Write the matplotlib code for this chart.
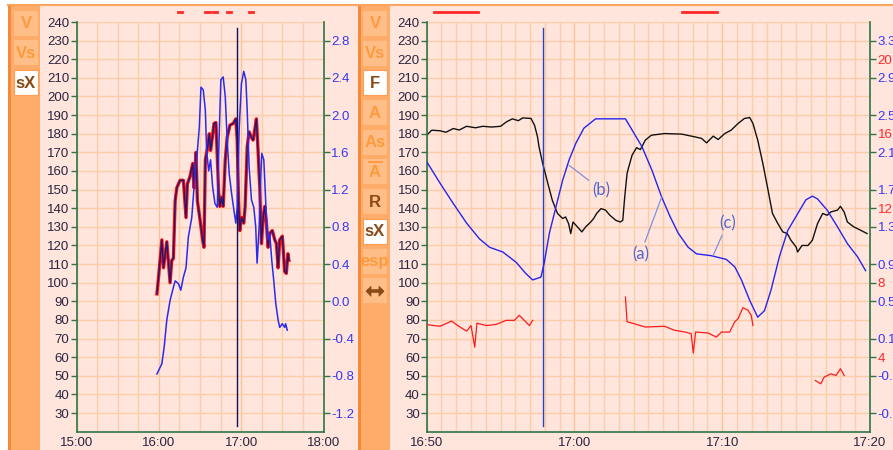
import matplotlib
matplotlib.use('Agg')
import matplotlib.pyplot as plt
from matplotlib.patches import Rectangle, Polygon
from matplotlib.lines import Line2D
from matplotlib.ticker import FixedLocator, MultipleLocator, FuncFormatter

plt.rcParams['font.family'] = ['Liberation Sans', 'DejaVu Sans']

# ---- session overview (minutes after 15:00) ----
hr_t = [58.6, 59.8, 62.2, 63.4, 65.8, 68.2, 69.4, 70.6, 71.9, 73.1,
        75.5, 77.9, 79.8, 80.8, 82.7, 84.7, 85.6, 87.1, 88.1, 90.0,
        91.9, 92.9, 93.9, 95.6, 96.8, 97.7, 99.0, 100.2, 101.6, 102.6,
        103.6, 104.5, 105.7, 106.9, 108.4, 109.8, 111.8, 114.2, 116.1, 117.1,
        118.1, 119.0, 120.2, 121.9, 122.9, 124.4, 125.8, 127.5, 128.7, 129.9,
        131.1, 132.3, 133.6, 134.8, 136.0, 137.2, 138.4, 139.6, 140.8, 142.7,
        144.5, 145.7, 146.9, 148.1, 150.0, 151.7, 152.9, 154.1, 154.8]
hr = [94, 103, 123, 108, 122, 100, 112, 113, 144, 151,
      155, 155, 135, 153, 157, 164, 151, 170, 144, 134,
      123, 119, 166, 173, 180, 171, 178, 185.5, 186, 167.6,
      148, 141, 146, 141, 166, 178, 184.6, 185.5, 188, 176.6,
      144, 128, 135, 132, 141, 173, 181, 178, 176.6, 182,
      188, 171, 150, 121, 135, 141, 132, 119, 126.5, 128,
      123, 121, 108, 123, 125, 106, 105, 115.6, 112]

vs_t = [58.6, 62.2, 63.9, 65.8, 68.2, 70.6, 71.9, 74.3, 76.0, 77.9,
        79.8, 81.5, 84.0, 86.4, 88.1, 89.5, 90.7, 92.4, 93.9, 94.8,
        96.3, 97.7, 99.2, 100.9, 102.6, 104.0, 105.2, 106.9, 108.4, 109.8,
        111.3, 113.0, 114.7, 116.1, 117.1, 118.6, 120.2, 121.9, 123.4, 124.4,
        125.8, 127.5, 129.2, 130.6, 131.6, 133.1, 134.0, 135.0, 136.5, 137.4,
        138.4, 139.6, 140.8, 142.3, 143.7, 145.2, 146.9, 148.1, 150.0, 151.7,
        152.4, 153.6]
vs = [-0.78, -0.67, -0.49, -0.20, 0.01, 0.15, 0.22, 0.19, 0.12, 0.26,
      0.36, 0.69, 0.90, 1.37, 1.62, 1.87, 2.30, 2.27, 2.05, 1.62,
      1.40, 1.52, 1.23, 1.05, 1.01, 1.80, 2.38, 2.41, 2.20, 1.73,
      1.37, 1.16, 0.98, 0.84, 1.01, 1.87, 2.34, 2.47, 2.38, 2.05,
      1.44, 1.09, 1.01, 0.80, 0.41, 0.80, 1.23, 1.59, 1.52, 1.23,
      0.90, 0.66, 0.73, 0.44, 0.23, -0.02, -0.20, -0.28, -0.24, -0.28,
      -0.24, -0.31]

overview_marks = [(73.8, 76.7), (93.6, 97.2), (99.6, 102.5), (109.4, 112.3), (125.8, 128.7)]
overview_cursor = 117.1

# ---- zoomed window (minutes after 16:50) ----
zhr_t = [0, 0.34, 0.9, 1.3, 1.8, 2.2, 2.7, 3.3, 3.8, 4.4, 5.0, 5.4, 5.8, 6.2, 6.5, 7.06, 7.3, 7.5, 7.6, 7.85,
         8.2, 8.5, 8.85, 9.2, 9.4, 9.6, 9.75, 9.9, 10.2, 10.5, 10.76, 11.1, 11.3, 11.5,
         11.8, 12.1, 12.4, 12.8, 13.1, 13.27, 13.4, 13.56, 13.67, 13.9, 14.2, 14.46,
         14.8, 15.2, 16.1, 17.26, 18.16, 18.6, 18.94, 19.39, 19.72, 20.17, 20.6, 21.07,
         21.5, 21.86, 22.08, 22.4, 22.75, 23.1, 23.4, 23.76, 24.1, 24.4, 24.65, 25.0,
         25.1, 25.4, 25.8, 26.1, 26.45, 26.8, 27.1, 27.35, 27.8, 28.0, 28.25, 28.47,
         28.9, 29.36, 29.8]
zhr = [179.2, 181.9, 181.6, 180.8, 182.8, 182.0, 184, 183.2, 184, 183.6, 184, 186.4, 188, 187.0, 188.5, 188.2, 184.5, 178.3, 173, 164,
       153.3, 144.3, 137.2, 134.5, 135.3, 131.8, 126.4, 132.6, 130, 127.3, 130, 132.6, 134.5, 137.2,
       139.8, 139, 136.2, 133.5, 132.6, 133.5, 146, 158.7, 162, 168.5, 172.5, 171.5,
       176.6, 179.2, 180.1, 179.8, 178.3, 177.5, 175.1, 178.7, 176.9, 180.1, 181.9, 185.5,
       188.2, 188.7, 185.5, 176.6, 164, 149.7, 137.2, 131.8, 127.3, 126.4, 122.8, 119.2,
       116.5, 120, 120, 122.8, 131.8, 137.2, 136.2, 138, 139, 141, 138, 132.6,
       130, 128.2, 126.4]

zvs_t = [0, 0.9, 1.8, 2.7, 3.58, 4.26, 5.15, 6.05, 6.7, 7.17, 7.73, 7.95, 8.3, 8.74,
         9.2, 9.64, 10.1, 10.64, 11.43, 13.45, 13.9, 14.57, 15.24, 15.9, 16.47, 17.03,
         17.7, 18.26, 19.27, 20.28, 20.85, 21.3, 21.86, 22.4, 22.86, 23.3, 23.87, 24.43,
         25.1, 25.66, 26.1, 26.45, 27.1, 27.8, 28.47, 29.15, 29.7]
zvs = [2.0, 1.77, 1.55, 1.34, 1.17, 1.08, 1.03, 0.92, 0.80, 0.73, 0.76, 0.91, 1.23, 1.51,
       1.80, 2.02, 2.20, 2.36, 2.46, 2.46, 2.34, 2.16, 1.91, 1.62, 1.41, 1.23,
       1.08, 1.01, 0.99, 0.95, 0.87, 0.73, 0.51, 0.33, 0.40, 0.62, 0.98, 1.26,
       1.44, 1.59, 1.63, 1.60, 1.48, 1.30, 1.12, 0.98, 0.83]

# cadence, three recorded stretches
f1_t = [0, 0.9, 1.68, 2.1, 2.7, 3.0, 3.25, 3.4, 4.03, 4.7, 5.38, 5.94, 6.27, 6.6, 6.95, 7.17]
f1 = [5.75, 5.66, 5.94, 5.7, 5.4, 5.7, 4.54, 5.83, 5.7, 5.76, 5.98, 5.98, 6.25, 5.98, 5.7, 5.98]
f2_t = [13.45, 13.56, 13.9, 14.8, 16.1, 16.8, 17.5, 17.9, 18.04, 18.2, 19.05, 19.6,
        19.95, 20.5, 20.85, 21.07, 21.4, 21.74, 21.96, 22.08]
f2 = [7.23, 5.9, 5.83, 5.62, 5.66, 5.44, 5.35, 5.26, 4.22, 5.35, 5.3, 5.08,
      5.35, 5.35, 5.9, 6.07, 6.66, 6.52, 6.25, 5.7]
f3_t = [26.3, 26.67, 26.9, 27.35, 27.7, 28.0, 28.25]
f3 = [2.75, 2.57, 2.93, 3.11, 3.02, 3.38, 3.02]

zoom_marks = [(0.51, 3.47), (17.26, 19.66)]
zoom_cursor = 7.9

W, H = 893, 450
PINK = '#FFE5DC'
ORANGE = '#FFAB69'
BTN = '#FFBE88'
GRID = '#FDCDAA'
GRID_MAJ = '#FBC295'
GREEN = '#2E7448'
DARK = '#2A2440'
BLUE = '#3838F0'
RED = '#FF2828'
BROWN = '#8A4A16'
BTN_TXT = '#FF9A3C'

fig = plt.figure(figsize=(W / 100, H / 100), dpi=100)
fig.patch.set_facecolor('white')


def fx(x):
    return x / W


def fy(y):
    return 1 - y / H


def px_rect(x, y, w, h, **kw):
    fig.add_artist(Rectangle((fx(x), fy(y + h)), w / W, h / H,
                             transform=fig.transFigure, **kw))


def button(x, y, label, selected=False, dark=False):
    if selected:
        px_rect(x, y, 24, 25, fc='white', ec='#FF9B55', lw=0.8, zorder=-5)
        col = BROWN
    else:
        px_rect(x, y, 24, 25, fc=BTN, ec='none', zorder=-5)
        col = BROWN if dark else BTN_TXT
    if label:
        fig.text(fx(x + 12), fy(y + 13), label, ha='center', va='center',
                 fontsize=12, fontweight='bold', color=col)


# panel background and side bars (kept under the axes)
px_rect(8, 5, W - 8, H - 5, fc=PINK, ec='none', zorder=-10)
for sx in (8, 358):
    px_rect(sx, 5, 32, H - 5, fc=ORANGE, ec='none', zorder=-9)
    px_rect(sx, 5, 3, H - 5, fc='#F5893A', ec='none', zorder=-8)
fig.add_artist(Line2D([fx(8), 1], [fy(5)] * 2, color='#FFA45E', lw=1.5, zorder=-7))

button(14, 11, 'V')
button(14, 40, 'Vs')
button(14, 70, 'sX', selected=True)

labels = ['V', 'Vs', 'F', 'A', 'As', 'A', 'R', 'sX', 'esp', '']
for i, lab in enumerate(labels):
    button(363, 11 + i * 29.7, lab, selected=lab in ('F', 'sX'), dark=lab == 'R')
# bar over the averaged A
fig.add_artist(Line2D([fx(369), fx(382)], [fy(162)] * 2, color=BTN_TXT, lw=1.4))
# scroll button: thick double arrow
ay = 11 + 9 * 29.7 + 13
fig.add_artist(Line2D([fx(369), fx(381)], [fy(ay)] * 2, color=BROWN, lw=2.6))
for tip, base in ((366, 371), (384, 379)):
    fig.add_artist(Polygon([(fx(tip), fy(ay)), (fx(base), fy(ay - 5)), (fx(base), fy(ay + 5))],
                           closed=True, transform=fig.transFigure, fc=BROWN, ec=BROWN, lw=0.5))

ax_bottom = (H - 431.7) / H
ax_height = 409.7 / H
ax1 = fig.add_axes([76.5 / W, ax_bottom, 247 / W, ax_height])
ax2 = fig.add_axes([426.7 / W, ax_bottom, 443.3 / W, ax_height])


def style(ax):
    ax.set_facecolor(PINK)
    ax.spines['top'].set_visible(False)
    for s in ('left', 'right', 'bottom'):
        ax.spines[s].set_color(GREEN)
        ax.spines[s].set_linewidth(1.2)
    ax.set_ylim(20, 240)
    ax.yaxis.set_major_locator(FixedLocator(range(30, 241, 10)))
    ax.tick_params(axis='y', direction='out', length=4, width=1, color=GREEN,
                   pad=1, labelsize=9.5, labelcolor=DARK)
    ax.tick_params(axis='x', which='both', length=0, pad=4, labelsize=9.5, labelcolor=DARK)
    ax.grid(which='minor', axis='x', color=GRID, lw=1)
    ax.grid(which='major', axis='x', color=GRID_MAJ, lw=1)
    ax.grid(which='major', axis='y', color=GRID, lw=1)
    ax.set_axisbelow(True)


def twin(ax, lo, hi, ticks, color, fmt):
    t = ax.twinx()
    t.set_ylim(lo, hi)
    t.yaxis.set_major_locator(FixedLocator(ticks))
    t.yaxis.set_major_formatter(FuncFormatter(lambda v, p: fmt % v))
    t.tick_params(axis='y', direction='out', length=4, width=1, color=GREEN,
                  pad=1.5, labelsize=9.5, labelcolor=color)
    for s in t.spines.values():
        s.set_visible(False)
    return t


# overview 15:00 - 18:00
style(ax1)
ax1.set_xlim(0, 180)
ax1.xaxis.set_major_locator(MultipleLocator(60))
ax1.xaxis.set_minor_locator(MultipleLocator(15))
ax1.xaxis.set_major_formatter(FuncFormatter(lambda m, p: '%d:%02d' % (15 + int(m // 60), int(m % 60))))
ax1.plot(hr_t, hr, color='#FF1010', lw=2.4)
ax1.plot(hr_t, hr, color='#18187A', lw=1.0)
ax1.plot([overview_cursor] * 2, [23, 237], color='#101060', lw=1.0)
for s, e in overview_marks:
    ax1.plot([s, e], [1.0244] * 2, transform=ax1.get_xaxis_transform(),
             clip_on=False, color=RED, lw=2)
ax1v = twin(ax1, -1.4, 3.0, [-1.2, -0.8, -0.4, 0.0, 0.4, 0.8, 1.2, 1.6, 2.0, 2.4, 2.8], BLUE, '%.1f')
ax1v.plot(vs_t, vs, color='#2B2BF0', lw=1.1)

# zoom 16:50 - 17:20
style(ax2)
ax2.set_xlim(0, 30)
ax2.xaxis.set_major_locator(MultipleLocator(10))
ax2.xaxis.set_minor_locator(MultipleLocator(1))
ax2.xaxis.set_major_formatter(FuncFormatter(lambda m, p: '%d:%02d' % (16 + int((50 + m) // 60), int((50 + m) % 60))))
ax2.plot(zhr_t, zhr, color='#111111', lw=1.0)
ax2.plot([zoom_cursor] * 2, [23, 237], color='#2A44C8', lw=1.0)
for s, e in zoom_marks:
    ax2.plot([s, e], [1.0244] * 2, transform=ax2.get_xaxis_transform(),
             clip_on=False, color=RED, lw=2)

ax2v = twin(ax2, -0.9, 3.5, [-0.7, -0.3, 0.1, 0.5, 0.9, 1.3, 1.7, 2.1, 2.5, 2.9, 3.3], BLUE, '%.1f')
ax2v.plot(zvs_t, zvs, color='#2525EE', lw=1.0)
ax2f = twin(ax2, 0, 22, [4, 8, 12, 16, 20], RED, '%d')
ax2f.plot(f1_t, f1, color='#FF1A1A', lw=0.9)
ax2f.plot(f2_t, f2, color='#FF1A1A', lw=0.9)
ax2f.plot(f3_t, f3, color='#FF1A1A', lw=0.9)

# curve labels
notes = [('(b)', (11.84, 149.7), (9.64, 163.0)),
         ('(a)', (14.46, 115.3), (15.9, 146.0)),
         ('(c)', (20.35, 132.0), (19.39, 114.7))]
for txt, xyt, xy in notes:
    ax2f.annotate(txt, xy=xy, xytext=xyt, xycoords=ax2.transData, textcoords=ax2.transData,
                  ha='center', va='center', fontsize=12, color='#5566CC', family=['Lato', 'DejaVu Sans'],
                  arrowprops=dict(arrowstyle='-', color='#8090DD', lw=0.9, shrinkA=1, shrinkB=0))

fig.savefig('out.png', dpi=100, facecolor=fig.get_facecolor())
